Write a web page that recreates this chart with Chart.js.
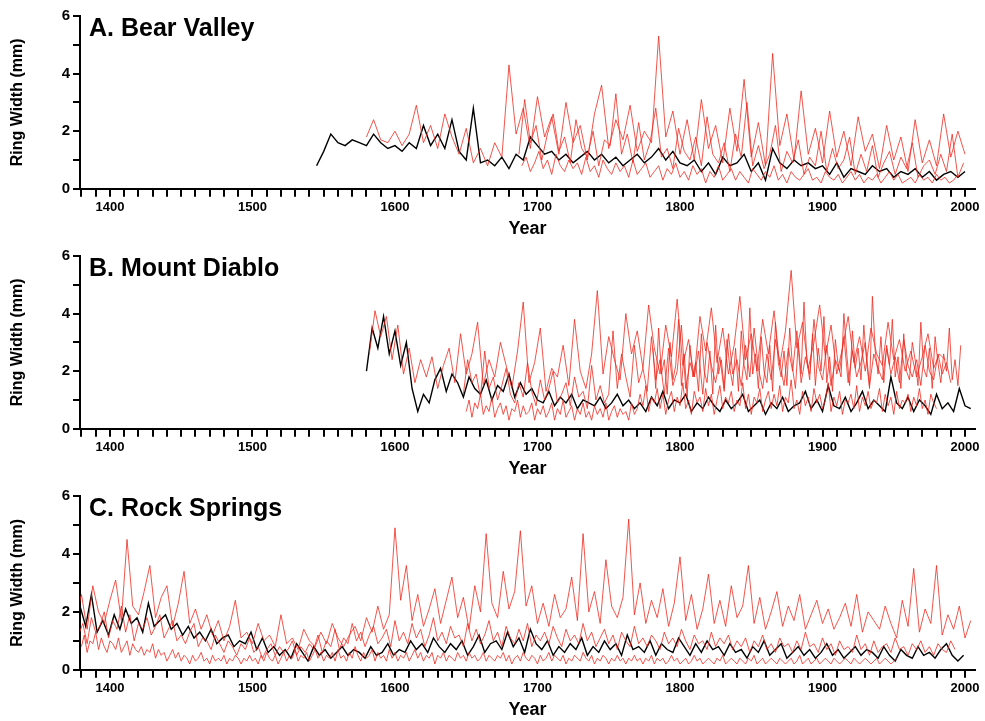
<!DOCTYPE html>
<html>
<head>
<meta charset="utf-8">
<script src="https://cdn.jsdelivr.net/npm/chart.js@4.4.0/dist/chart.umd.min.js"></script>
<style>
  body { margin: 0; background: #fff; }
  .panel { position: relative; width: 985px; height: 240px; }
</style>
</head>
<body>
<div class="panel"><canvas id="chartA"></canvas></div>
<div class="panel"><canvas id="chartB"></canvas></div>
<div class="panel" style="height:241px"><canvas id="chartC"></canvas></div>
<script>
// Each series: start year, step in years, ring widths (mm)
const titles = ['A. Bear Valley', 'B. Mount Diablo', 'C. Rock Springs'];

const meanA = { start: 1545, step: 5, values: [0.8,1.3,1.9,1.6,1.5,1.7,1.6,1.5,1.9,1.6,1.4,1.5,1.3,1.6,1.4,2.2,1.5,1.9,1.4,2.4,1.3,1.0,2.8,0.9,1.0,0.8,1.1,0.7,1.2,1.0,1.8,1.5,1.2,1.3,1.0,1.2,0.9,1.1,1.3,1.0,1.2,0.9,1.1,0.8,1.0,1.2,0.9,1.1,1.4,1.0,1.3,0.9,0.8,1.0,0.6,0.9,0.5,1.1,0.8,0.9,1.2,0.6,0.9,0.3,1.4,0.9,0.7,1.0,0.8,0.9,0.7,0.8,0.5,0.9,0.4,0.7,0.6,0.5,0.8,0.6,0.7,0.4,0.6,0.5,0.7,0.4,0.6,0.3,0.5,0.6,0.4,0.6] };
const redA1 = { start: 1580, step: 5, values: [1.8,2.4,1.7,1.6,2.0,1.5,1.9,2.9,1.6,2.2,1.4,2.6,1.8,1.2,2.1,0.9,1.4,0.8,1.6,1.1,4.3,1.9,2.8,1.4,3.2,1.8,2.5,1.2,3.0,1.6,2.2,1.0,2.6,3.6,1.4,2.4,1.7,2.9,1.3,2.0,1.6,5.3,1.8,2.7,1.2,2.4,1.0,3.1,1.4,2.2,0.9,2.8,1.3,3.8,1.1,2.3,0.8,4.7,1.5,2.6,1.0,3.4,1.2,2.1,0.9,2.7,1.1,2.0,0.8,2.5,1.3,1.9,0.7,2.2,1.0,1.8,0.6,2.4,0.9,1.7,0.8,2.6,1.1,2.0,1.2] };
const redA2 = { start: 1687, step: 4, values: [1.2,3.1,1.6,2.2,1.0,1.9,2.6,1.3,1.8,0.9,2.4,1.4,1.1,2.0,0.8,1.7,1.5,3.3,1.2,1.9,0.9,2.3,1.0,1.6,2.8,1.1,1.4,0.7,2.1,1.3,1.0,1.8,0.8,2.5,1.2,0.9,1.6,0.6,1.9,1.1,3.0,0.8,1.5,0.7,1.2,2.2,0.6,1.3,0.9,1.7,0.5,1.1,0.8,2.0,0.6,1.4,0.7,1.0,1.8,0.5,1.2,0.6,1.5,0.4,0.9,1.3,0.5,1.1,0.7,1.6,0.4,0.8,1.0,0.5,1.2,0.6,1.9,0.4,0.9] };
const redA3 = { start: 1689, step: 3, values: [0.8,1.1,0.6,0.9,1.3,0.7,1.0,0.5,1.2,0.8,0.6,1.0,0.7,0.9,0.5,1.1,0.6,0.8,0.4,1.0,0.7,0.5,0.9,0.6,0.8,0.4,1.0,0.5,0.7,0.9,0.4,0.6,0.8,0.3,0.7,0.5,0.9,0.4,0.6,0.3,0.8,0.5,0.7,0.2,0.6,0.4,0.8,0.3,0.5,0.7,0.3,0.6,0.4,0.2,0.7,0.5,0.3,0.6,0.4,0.8,0.3,0.5,0.2,0.6,0.4,0.3,0.5,0.7,0.3,0.4,0.2,0.6,0.4,0.3,0.5,0.2,0.4,0.6,0.3,0.5,0.2,0.4,0.3,0.5,0.2,0.4,0.6,0.3,0.5,0.2,0.3,0.4,0.2,0.5,0.3,0.4,0.2,0.5,0.3,0.4,0.2,0.3,0.5] };

const meanB = { start: 1580, step: 4, values: [2.0,3.5,2.8,3.9,2.6,3.4,2.2,3.0,1.4,0.6,1.2,0.9,1.7,2.1,1.3,1.9,1.6,1.1,1.8,1.4,1.2,1.7,1.0,1.5,1.3,1.9,1.1,1.6,1.2,1.4,1.0,0.9,1.3,0.8,1.1,0.9,1.2,0.7,1.0,0.9,0.8,1.1,0.7,0.9,1.2,0.8,1.0,0.7,0.9,0.6,1.1,0.8,1.3,0.7,1.0,0.9,1.2,0.6,0.9,0.7,1.1,0.8,0.6,1.0,0.7,0.9,1.2,0.6,0.8,1.0,0.5,0.9,0.7,1.1,0.6,0.8,0.9,1.3,0.7,1.0,0.6,1.5,0.8,0.7,1.1,0.6,0.9,1.3,0.7,1.0,0.8,0.6,1.8,0.9,0.7,1.1,0.6,1.0,0.8,0.5,1.2,0.7,0.9,0.6,1.4,0.8,0.7] };
const redB1 = { start: 1582, step: 4, values: [2.6,4.1,3.2,3.9,2.4,3.6,1.9,2.8,1.6,2.4,1.8,2.5,1.4,2.2,2.8,1.6,3.3,1.9,2.6,3.7,1.5,2.4,1.8,3.0,2.2,1.4,2.7,4.4,1.6,2.3,3.5,1.3,2.1,1.8,2.9,1.5,3.8,2.0,1.4,2.6,4.8,1.9,3.2,2.4,1.7,4.0,2.6,3.4,2.1,4.3,2.8,1.9,3.6,2.5,4.5,2.2,3.1,1.8,3.9,2.7,4.2,2.3,3.5,1.9,2.9,4.6,2.4,3.3,2.0,3.8,2.6,4.1,2.2,3.4,5.5,2.8,3.7,2.1,3.0,4.3,2.5,3.6,1.9,2.8,3.9,2.3,3.2,2.0,3.5,2.6,2.2,3.7,2.4,3.1,2.0,2.7,1.8,2.5,3.3,2.1,2.6,2.4] };
const redB2 = { start: 1648, step: 3, values: [1.2,2.4,1.6,1.9,1.1,2.7,1.4,1.8,1.0,1.5,2.1,1.2,0.9,1.6,1.1,2.3,1.3,0.8,1.7,1.0,1.4,2.0,0.9,1.2,1.6,0.8,1.8,1.1,1.3,0.7,2.2,1.0,1.5,0.9,1.2,3.4,1.4,2.6,1.8,1.1,2.9,1.6,2.1,1.3,3.2,1.7,2.4,1.2,2.8,1.5,2.0,3.6,1.4,2.3,1.8,2.7,1.2,3.0,2.2,1.6,2.5,1.3,3.3,1.9,2.4,1.5,2.9,1.8,3.5,2.1,1.4,2.6,1.7,3.1,2.3,1.5,2.8,2.0,3.4,1.6,2.5,1.9,3.8,2.2,1.7,2.9,1.5,2.4,2.0,3.2,1.6,2.7,1.8,2.3,3.0,1.5,2.6,2.1,1.7,2.8,1.9,2.5,1.6,3.1,2.2,1.8,2.4,1.5,2.9,2.0,1.7,2.6,1.9,2.3,1.6] };
const redB3 = { start: 1650, step: 2, values: [0.6,1.0,0.4,0.9,0.7,1.2,0.5,0.8,0.6,1.1,0.4,0.7,0.9,0.5,0.8,0.3,0.7,0.6,1.0,0.4,0.8,0.5,0.6,0.9,0.3,0.7,0.5,0.8,0.4,0.6,0.9,0.3,0.7,0.5,1.0,0.4,0.6,0.8,0.3,0.7,0.5,0.9,0.4,0.6,0.3,0.8,0.5,0.7,0.4,0.9,0.3,0.6,0.8,0.4,0.7,0.5,0.6,0.3,0.9,0.5,0.7,1.2,0.8,1.5,0.6,1.1,0.9,1.4,0.7,1.2,0.5,1.0,1.3,0.6,1.1,0.8,1.6,0.7,1.0,0.5,1.3,0.9,1.1,0.6,1.4,0.8,1.2,0.5,1.0,1.5,0.7,1.1,0.9,1.3,0.6,1.0,0.8,1.6,0.7,1.2,0.5,1.1,0.9,1.4,0.6,1.0,1.3,0.7,1.2,0.8,1.5,0.6,1.1,0.9,1.7,0.7,1.0,0.5,1.3,0.8,1.1,0.6,1.4,0.9,1.2,0.7,1.0,1.6,0.6,1.1,0.8,1.3,0.5,1.0,0.9,1.2,0.7,1.5,0.6,1.1,0.8,1.3,0.7,1.0,0.9,1.4,0.6,1.2,0.8,1.1,0.5,1.3,0.7,1.0,0.9,1.2,0.6,1.1,0.8,1.4,0.7,1.0,0.5,1.2,0.9,0.7] };
const redB4 = { start: 1781, step: 2, values: [2.8,1.4,3.5,1.9,2.4,1.2,3.0,1.7,2.2,3.8,1.5,2.6,1.1,2.9,1.8,2.3,1.3,3.3,2.0,1.6,2.7,1.2,3.6,1.9,2.4,1.4,3.1,2.1,1.5,2.8,1.3,3.4,2.2,1.7,4.2,1.9,2.6,1.4,3.2,2.0,1.6,2.9,1.3,3.7,2.3,1.8,2.7,1.5,3.5,2.1,1.4,3.0,1.9,4.4,2.4,1.7,3.3,1.5,2.8,2.0,3.9,1.6,2.5,1.3,3.1,2.2,1.8,4.0,2.6,1.5,3.4,2.1,2.8,1.7,3.6,2.3,1.4,4.6,2.7,1.9,3.2,1.6,2.9,2.2,3.8,1.8,2.5,1.4,3.3,2.0,1.7,3.0,2.4,1.5,3.7,2.1,1.8,2.8,1.4,3.2,2.3,1.6,2.6,2.0,3.5,1.7,2.4,1.5,2.9] };

const meanC = { start: 1375, step: 4, values: [1.0,2.2,1.5,2.6,1.3,1.7,1.2,1.9,1.4,2.1,1.6,1.8,1.3,2.3,1.5,1.7,1.9,1.4,1.6,1.2,1.5,1.1,1.3,1.0,1.4,0.9,1.1,1.2,0.8,1.0,0.9,1.3,0.7,1.1,0.6,0.8,0.5,0.7,0.4,0.9,0.6,0.3,0.8,0.5,0.7,0.4,0.6,0.8,0.5,0.7,0.6,0.4,0.8,0.5,0.6,0.9,0.5,0.7,0.6,1.0,0.7,0.9,0.6,1.1,0.8,0.6,0.9,0.7,1.0,0.5,0.8,1.2,0.6,0.9,1.0,0.7,1.3,0.8,1.1,0.6,1.4,0.9,0.7,1.0,0.5,0.8,0.6,0.9,0.7,1.1,0.5,0.8,0.6,1.0,0.7,0.9,0.5,1.2,0.7,0.8,0.6,1.0,0.5,0.9,0.7,0.6,1.1,0.8,0.5,0.9,0.6,1.0,0.7,0.8,0.5,0.9,0.6,0.7,0.4,0.8,0.6,1.0,0.5,0.7,0.9,0.4,0.6,0.8,0.5,0.7,0.4,0.6,0.9,0.5,0.7,0.4,0.6,0.8,0.5,0.7,0.6,0.4,0.8,0.5,0.3,0.7,0.5,0.4,0.8,0.5,0.6,0.4,0.7,0.9,0.5,0.3,0.5] };
const redC1 = { start: 1376, step: 4, values: [1.8,2.6,1.4,2.9,2.0,1.6,2.4,3.1,1.7,4.5,2.2,1.9,2.7,3.6,1.8,2.5,2.9,1.5,2.3,3.4,1.6,2.1,1.4,1.9,1.2,1.7,1.0,1.5,2.4,1.1,1.3,0.9,1.6,1.0,1.2,0.8,1.9,0.9,1.1,0.7,1.4,1.0,0.8,1.3,0.9,1.6,1.1,0.8,1.2,1.5,1.0,1.8,1.3,2.2,1.4,1.9,4.9,2.4,3.6,1.7,2.6,1.5,2.1,2.8,1.6,2.4,3.2,1.8,2.5,1.4,2.9,2.0,4.7,2.3,1.8,3.4,2.1,2.7,4.8,2.2,2.9,1.6,2.3,1.5,2.6,1.8,2.1,3.2,1.7,4.7,2.0,2.7,1.6,3.8,2.2,1.8,2.5,5.2,1.9,3.0,1.6,2.4,1.8,2.8,1.5,2.3,3.9,1.7,2.6,1.4,2.1,3.3,1.6,2.4,1.5,2.9,1.8,2.2,3.6,1.6,2.5,1.4,2.0,2.7,1.5,2.2,1.7,2.6,1.4,1.9,2.4,1.6,2.1,1.4,1.8,2.3,1.5,2.6,1.3,2.0,1.7,1.4,2.2,1.6,1.1,2.4,1.5,3.5,1.3,2.1,1.6,3.6,1.2,1.9,1.4,2.2,1.1,1.7] };
const redC2 = { start: 1378, step: 3, values: [1.2,1.6,0.9,1.8,1.3,1.5,2.0,1.1,1.7,1.4,2.2,1.3,1.9,1.0,1.6,1.4,1.8,1.2,1.5,1.9,1.1,1.4,1.7,1.0,1.2,0.9,1.3,1.6,0.8,1.1,1.0,0.7,1.2,0.9,0.6,1.0,0.8,0.5,0.9,0.7,1.1,0.6,0.8,0.4,0.7,0.9,0.5,0.8,0.6,0.7,1.0,0.5,0.8,0.6,0.9,0.7,1.2,0.6,1.0,0.8,1.4,0.7,1.1,0.9,1.6,1.0,1.3,0.8,1.2,1.5,0.9,1.1,1.4,0.8,1.7,1.0,1.3,0.9,1.6,1.1,1.4,0.8,1.2,1.8,1.0,1.3,0.9,1.5,1.1,1.2,0.8,1.6,1.0,1.4,0.9,1.2,1.7,1.0,1.3,0.8,1.5,1.1,0.9,1.4,1.0,1.6,0.8,1.2,1.0,1.3,0.9,1.5,1.1,0.8,1.4,1.0,1.2,0.9,1.6,1.0,1.3,0.8,1.1,1.4,0.9,1.2,0.7,1.3,1.0,0.8,1.5,0.9,1.1,0.8,1.2,1.0,0.7,1.3,0.9,1.1,0.8,1.4,1.0,0.7,1.2,0.9,1.0,0.7,1.3,0.8,1.1,0.9,1.2,0.7,1.0,0.8,1.1,0.6,1.0,0.8,1.2,0.7,0.9,0.6,1.1,0.8,0.9,0.6,1.0,0.7,1.3,0.8,0.9,0.6,1.1,0.7,0.9,0.5,1.0,0.7,0.8,0.6,1.2,0.7,0.9,0.5,1.0,0.6,0.8,0.9,0.6,1.1,0.7,0.8,0.5,0.9,0.7,1.0,0.6,0.8,0.5,0.9,0.7,0.6,1.0,0.7] };
const redC3 = { start: 1380, step: 2, values: [0.8,1.2,0.6,1.0,0.9,1.3,0.7,1.1,0.8,0.6,1.0,0.9,0.7,1.1,0.6,0.8,1.0,0.5,0.9,0.7,0.6,0.8,0.5,0.7,0.6,0.9,0.4,0.7,0.5,0.6,0.3,0.5,0.7,0.4,0.6,0.3,0.5,0.4,0.2,0.5,0.3,0.4,0.6,0.3,0.4,0.2,0.5,0.3,0.4,0.3,0.5,0.2,0.4,0.3,0.5,0.4,0.2,0.4,0.3,0.5,0.3,0.4,0.2,0.5,0.3,0.6,0.4,0.3,0.5,0.2,0.4,0.6,0.3,0.5,0.4,0.7,0.3,0.5,0.4,0.6,0.3,0.5,0.7,0.4,0.6,0.3,0.5,0.4,0.6,0.3,0.7,0.4,0.5,0.3,0.6,0.4,0.8,0.5,0.3,0.6,0.4,0.5,0.7,0.3,0.6,0.4,0.5,0.3,0.7,0.4,0.6,0.3,0.5,0.4,0.6,0.3,0.5,0.7,0.4,0.6,0.3,0.5,0.4,0.6,0.2,0.5,0.4,0.6,0.3,0.5,0.4,0.3,0.6,0.4,0.5,0.3,0.6,0.4,0.5,0.3,0.4,0.6,0.3,0.5,0.4,0.3,0.5,0.4,0.6,0.3,0.5,0.2,0.4,0.5,0.3,0.6,0.4,0.3,0.5,0.4,0.2,0.5,0.3,0.4,0.6,0.3,0.5,0.4,0.3,0.5,0.2,0.4,0.3,0.5,0.4,0.3,0.6,0.4,0.3,0.5,0.2,0.4,0.3,0.5,0.4,0.2,0.4,0.3,0.5,0.3,0.4,0.2,0.4,0.3,0.5,0.3,0.4,0.2,0.4,0.3,0.5,0.2,0.4,0.3,0.4,0.2,0.3,0.5,0.3,0.4,0.2,0.3,0.4,0.2,0.3,0.5,0.3,0.4,0.2,0.3,0.4,0.3,0.2,0.4,0.3,0.5,0.2,0.3,0.4,0.3,0.2,0.4,0.3,0.2,0.4,0.3,0.5,0.2,0.3,0.4,0.2,0.3,0.4,0.3,0.2,0.4,0.3,0.2,0.3,0.4,0.2,0.3,0.5,0.2,0.3,0.4,0.2,0.3,0.4,0.2,0.3,0.4,0.3,0.2,0.4,0.3,0.2,0.3,0.4,0.3,0.2,0.4,0.3,0.2,0.3,0.4,0.3,0.2,0.3,0.4,0.2,0.3,0.4,0.3,0.2,0.3,0.4] };

const panels = [
  { id: 'chartA', title: titles[0], reds: [redA1, redA2, redA3], mean: meanA },
  { id: 'chartB', title: titles[1], reds: [redB1, redB2, redB4, redB3], mean: meanB },
  { id: 'chartC', title: titles[2], reds: [redC1, redC2, redC3], mean: meanC }
];

const FONT = "'Liberation Sans', Arial, sans-serif";

function toPoints(s) {
  return s.values.map((v, i) => ({ x: s.start + i * s.step, y: v })).filter(p => p.x <= 2004);
}

const titlePlugin = {
  id: 'panelTitle',
  afterDraw(chart, args, opts) {
    const { ctx, chartArea } = chart;
    ctx.save();
    ctx.font = 'bold 25px ' + FONT;
    ctx.fillStyle = '#000';
    ctx.textBaseline = 'top';
    ctx.fillText(opts.text, chartArea.left + 9, chartArea.top + 1);
    ctx.restore();
  }
};

panels.forEach(p => {
  const datasets = p.reds.map(s => ({
    data: toPoints(s),
    borderColor: '#ee2a1e',
    borderWidth: 0.8,
    pointRadius: 0,
    showLine: true,
    tension: 0
  }));
  datasets.push({
    data: toPoints(p.mean),
    borderColor: '#000',
    borderWidth: 1.4,
    pointRadius: 0,
    showLine: true,
    tension: 0
  });

  new Chart(document.getElementById(p.id), {
    type: 'scatter',
    data: { datasets },
    plugins: [titlePlugin],
    options: {
      responsive: true,
      maintainAspectRatio: false,
      animation: false,
      layout: { padding: { top: 16, right: 10, left: 8, bottom: 0 } },
      plugins: {
        legend: { display: false },
        tooltip: { enabled: false },
        panelTitle: { text: p.title }
      },
      scales: {
        x: {
          type: 'linear',
          min: 1379,
          max: 2007,
          border: { color: '#000', width: 2 },
          grid: { drawOnChartArea: false, color: '#000', lineWidth: 2, tickLength: 8 },
          ticks: {
            stepSize: 10,
            autoSkip: false,
            maxRotation: 0,
            minRotation: 0,
            padding: 3,
            color: '#000',
            font: { family: FONT, size: 13, weight: 'bold' },
            callback: v => (v % 100 === 0 ? String(v) : '')
          },
          afterBuildTicks: axis => {
            const t = [];
            for (let y = 1380; y <= 2000; y += 10) t.push({ value: y });
            axis.ticks = t;
          },
          title: { display: true, text: 'Year', color: '#000', font: { family: FONT, size: 18, weight: 'bold' }, padding: { top: 0, bottom: 0 } }
        },
        y: {
          min: 0,
          max: 6,
          afterFit: axis => { axis.width = 72; },
          border: { color: '#000', width: 2 },
          grid: { drawOnChartArea: false, color: '#000', lineWidth: 2, tickLength: 7 },
          ticks: {
            stepSize: 1,
            padding: 3,
            color: '#000',
            font: { family: FONT, size: 15, weight: 'bold' },
            callback: v => (v % 2 === 0 ? String(v) : '')
          },
          title: { display: true, text: 'Ring Width (mm)', color: '#000', font: { family: FONT, size: 16, weight: 'bold' }, padding: { top: 0, bottom: 8 } }
        }
      }
    }
  });
});
</script>
</body>
</html>
